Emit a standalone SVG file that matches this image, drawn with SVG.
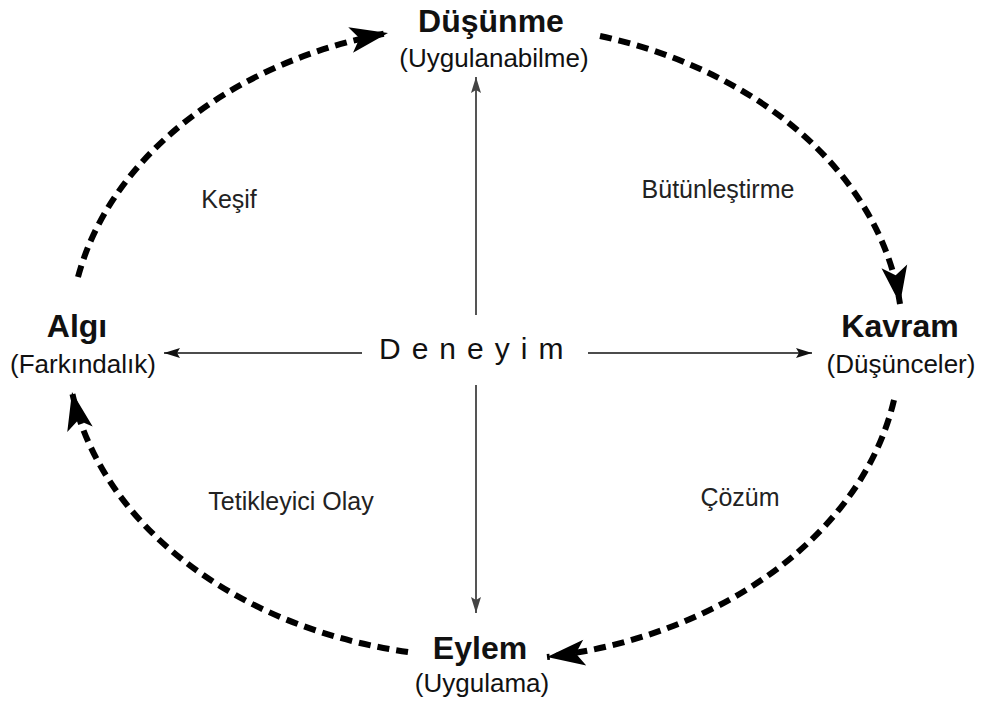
<svg xmlns="http://www.w3.org/2000/svg" width="985" height="704" viewBox="0 0 985 704">
  <style>
    .bold { font-family: "Liberation Sans", Arial, sans-serif; font-weight: bold; font-size: 32px; fill: #111; text-anchor: middle; }
    .sub { font-family: "Liberation Sans", Arial, sans-serif; font-size: 26px; fill: #111; text-anchor: middle; }
    .lbl { font-family: "Liberation Sans", Arial, sans-serif; font-size: 25px; fill: #222; text-anchor: middle; }
    .center { font-family: "Liberation Sans", Arial, sans-serif; font-size: 30px; fill: #111; letter-spacing: 11px; }
    .cycle { fill: none; stroke: #000; stroke-width: 6; stroke-dasharray: 12 7; }
    .hline { fill: none; stroke: #111; stroke-width: 1.6; }
    .vline { fill: none; stroke: #555; stroke-width: 2; }
  </style>
  <defs>
    <marker id="bigHead" markerUnits="userSpaceOnUse" markerWidth="42" markerHeight="30" refX="38" refY="13" orient="auto" overflow="visible">
      <path d="M0,0 L38,13 L0,26 L9,13 Z" fill="#000"/>
    </marker>
    <marker id="smallHead" markerUnits="userSpaceOnUse" markerWidth="18" markerHeight="12" refX="16" refY="5" orient="auto" overflow="visible">
      <path d="M0,0 L16,5 L0,10 L3,5 Z" fill="#111"/>
    </marker>
    <marker id="grayHead" markerUnits="userSpaceOnUse" markerWidth="18" markerHeight="12" refX="16" refY="5" orient="auto" overflow="visible">
      <path d="M0,0 L16,5 L0,10 L3,5 Z" fill="#444"/>
    </marker>
  </defs>

  <g id="connectors">
    <path id="arc-kesif" class="cycle" d="M78,277 A418 316 0 0 1 388,33" marker-end="url(#bigHead)"/>
    <path id="arc-butunlestirme" class="cycle" d="M600,36 A418 316 0 0 1 900,304" marker-end="url(#bigHead)"/>
    <path id="arc-cozum" class="cycle" d="M894,400 A418 316 0 0 1 547,657" marker-end="url(#bigHead)"/>
    <path id="arc-tetikleyici" class="cycle" d="M408,652 A418 316 0 0 1 72,392" marker-end="url(#bigHead)"/>
    <path class="hline" d="M362,353 L164,353" marker-end="url(#smallHead)"/>
    <path class="hline" d="M588,353 L812,353" marker-end="url(#smallHead)"/>
    <path class="vline" d="M476,315 L476,77" marker-end="url(#grayHead)"/>
    <path class="vline" d="M476,385 L476,613" marker-end="url(#grayHead)"/>
  </g>

  <g id="node-dusunme">
    <text class="bold" x="491" y="32">Düşünme</text>
    <text class="sub" x="494" y="67">(Uygulanabilme)</text>
  </g>
  <g id="node-kavram">
    <text class="bold" x="900" y="337">Kavram</text>
    <text class="sub" x="901" y="373">(Düşünceler)</text>
  </g>
  <g id="node-eylem">
    <text class="bold" x="480" y="659">Eylem</text>
    <text class="sub" x="482" y="692">(Uygulama)</text>
  </g>
  <g id="node-algi">
    <text class="bold" x="77" y="337">Algı</text>
    <text class="sub" x="83" y="373">(Farkındalık)</text>
  </g>
  <g id="node-deneyim">
    <text class="center" x="379" y="359">Deneyim</text>
  </g>

  <g id="labels">
    <text class="lbl" x="229" y="208">Keşif</text>
    <text class="lbl" x="718" y="198">Bütünleştirme</text>
    <text class="lbl" x="740" y="506">Çözüm</text>
    <text class="lbl" x="291" y="510">Tetikleyici Olay</text>
  </g>
</svg>
